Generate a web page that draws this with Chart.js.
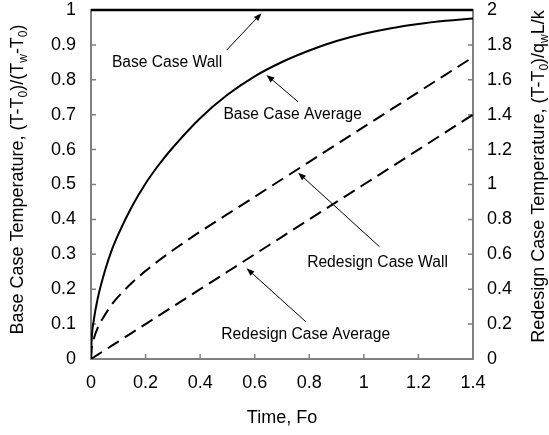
<!DOCTYPE html>
<html>
<head>
<meta charset="utf-8">
<script src="https://cdn.jsdelivr.net/npm/chart.js@4.4.1/dist/chart.umd.min.js"></script>
<style>
  html, body { margin: 0; padding: 0; background: #fff; }
  #wrap { width: 549px; height: 435px; position: relative; }
</style>
</head>
<body>
<div id="wrap"><canvas id="chart"></canvas></div>
<script>
// Fourier number samples (x axis)
const fo = [0, 0.0025, 0.01, 0.025, 0.05, 0.075, 0.1, 0.15, 0.2, 0.25, 0.3, 0.4, 0.5,
            0.6, 0.7, 0.8, 0.9, 1.0, 1.1, 1.2, 1.3, 1.4];

// left axis: base case (T-T0)/(Tw-T0)
const baseWall = [1, 1, 1, 1, 1, 1, 1, 1, 1, 1, 1, 1, 1, 1, 1, 1, 1, 1, 1, 1, 1, 1];
const baseAvg  = [0, 0.056, 0.11, 0.175, 0.25, 0.31, 0.357, 0.437, 0.503, 0.558, 0.606, 0.69, 0.757,
                  0.81, 0.851, 0.884, 0.911, 0.932, 0.948, 0.96, 0.969, 0.976];

// right axis: redesign case (T-T0)/(qw L/k)
const redesignWall = [0, 0.06, 0.115, 0.18, 0.25, 0.31, 0.357, 0.437, 0.505, 0.566, 0.623, 0.73, 0.83,
                      0.93, 1.03, 1.13, 1.23, 1.33, 1.43, 1.53, 1.63, 1.73];
const redesignAvg  = [0, 0.0025, 0.01, 0.025, 0.05, 0.075, 0.1, 0.15, 0.2, 0.25, 0.3, 0.4, 0.5,
                      0.6, 0.7, 0.8, 0.9, 1.0, 1.1, 1.2, 1.3, 1.4];

// tick labels
const xTickValues = [0, 0.2, 0.4, 0.6, 0.8, 1, 1.2, 1.4];
const leftTickValues = [0, 0.1, 0.2, 0.3, 0.4, 0.5, 0.6, 0.7, 0.8, 0.9, 1];
const rightTickValues = [0, 0.2, 0.4, 0.6, 0.8, 1, 1.2, 1.4, 1.6, 1.8, 2];

// callouts, in (Fo, left axis) units: label centre, arrow tail, arrow head
const callouts = [
  { text: 'Base Case Wall',        at: [0.279, 0.848], from: [0.497, 0.885], to: [0.625, 0.991] },
  { text: 'Base Case Average',     at: [0.739, 0.700], from: [0.759, 0.737], to: [0.643, 0.814] },
  { text: 'Redesign Case Wall',    at: [1.050, 0.275], from: [1.057, 0.322], to: [0.759, 0.534] },
  { text: 'Redesign Case Average', at: [0.787, 0.069], from: [0.787, 0.107], to: [0.570, 0.260] }
];

const FONT = 'Arial, "Liberation Sans", sans-serif';
const FRAME = '#808080';

function pts(ys) {
  return fo.map((x, i) => ({ x: x, y: ys[i] }));
}

function fmt(v) {
  return String(+Number(v).toFixed(1));
}

// text with subscripts, centred on (0,0) of the current transform
function drawRich(ctx, parts, size) {
  const subSize = Math.round(size * 0.68);
  let w = 0;
  parts.forEach(p => {
    ctx.font = (p[1] ? subSize : size) + 'px ' + FONT;
    w += ctx.measureText(p[0]).width;
  });
  let x = -w / 2;
  ctx.textAlign = 'left';
  ctx.textBaseline = 'middle';
  parts.forEach(p => {
    ctx.font = (p[1] ? subSize : size) + 'px ' + FONT;
    ctx.fillText(p[0], x, p[1] ? size * 0.3 : 0);
    x += ctx.measureText(p[0]).width;
  });
}

// keep the plot box fixed: no extra padding from edge labels
function noPad(s) {
  s.paddingTop = 0;
  s.paddingBottom = 0;
  s.paddingLeft = 0;
  s.paddingRight = 0;
}

const extras = {
  id: 'extras',
  beforeDatasetsDraw(chart) {
    const ctx = chart.ctx;
    const a = chart.chartArea;
    const sx = chart.scales.x, sy = chart.scales.y, sy2 = chart.scales.y2;
    ctx.save();
    ctx.strokeStyle = FRAME;
    ctx.lineWidth = 1.5;
    ctx.beginPath();
    xTickValues.forEach(v => {
      const px = sx.getPixelForValue(v);
      ctx.moveTo(px, a.bottom);
      ctx.lineTo(px, a.bottom - 5);
    });
    leftTickValues.forEach(v => {
      const py = sy.getPixelForValue(v);
      ctx.moveTo(a.left, py);
      ctx.lineTo(a.left + 5, py);
    });
    rightTickValues.forEach(v => {
      const py = sy2.getPixelForValue(v);
      ctx.moveTo(a.right, py);
      ctx.lineTo(a.right - 5, py);
    });
    ctx.stroke();
    ctx.restore();
  },
  afterDraw(chart) {
    const ctx = chart.ctx;
    const a = chart.chartArea;
    const sx = chart.scales.x, sy = chart.scales.y;
    ctx.save();
    ctx.fillStyle = '#000';
    ctx.strokeStyle = '#000';

    // callouts with arrows
    callouts.forEach(c => {
      ctx.font = '15.6px ' + FONT;
      ctx.textAlign = 'center';
      ctx.textBaseline = 'middle';
      ctx.fillText(c.text, sx.getPixelForValue(c.at[0]), sy.getPixelForValue(c.at[1]));
      const x1 = sx.getPixelForValue(c.from[0]), y1 = sy.getPixelForValue(c.from[1]);
      const x2 = sx.getPixelForValue(c.to[0]), y2 = sy.getPixelForValue(c.to[1]);
      const ang = Math.atan2(y2 - y1, x2 - x1);
      ctx.lineWidth = 1;
      ctx.beginPath();
      ctx.moveTo(x1, y1);
      ctx.lineTo(x2 - 5 * Math.cos(ang), y2 - 5 * Math.sin(ang));
      ctx.stroke();
      ctx.beginPath();
      ctx.moveTo(x2, y2);
      ctx.lineTo(x2 - 8 * Math.cos(ang) + 3 * Math.sin(ang), y2 - 8 * Math.sin(ang) - 3 * Math.cos(ang));
      ctx.lineTo(x2 - 8 * Math.cos(ang) - 3 * Math.sin(ang), y2 - 8 * Math.sin(ang) + 3 * Math.cos(ang));
      ctx.closePath();
      ctx.fill();
    });

    // axis titles
    ctx.save();
    ctx.translate((a.left + a.right) / 2, 418);
    drawRich(ctx, [['Time, Fo']], 18);
    ctx.restore();

    ctx.save();
    ctx.translate(18, (a.top + a.bottom) / 2 - 5);
    ctx.rotate(-Math.PI / 2);
    drawRich(ctx, [['Base Case Temperature, (T-T'], ['0', 1], [')/(T'], ['w', 1], ['-T'], ['0', 1], [')']], 18);
    ctx.restore();

    ctx.save();
    ctx.translate(539, (a.top + a.bottom) / 2 - 8);
    ctx.rotate(-Math.PI / 2);
    drawRich(ctx, [['Redesign Case Temperature, (T-T'], ['0', 1], [')/q'], ['w', 1], ['L/k']], 18);
    ctx.restore();

    ctx.restore();
  }
};

const tickFont = { family: FONT, size: 18 };

new Chart(document.getElementById('chart'), {
  type: 'line',
  data: {
    datasets: [
      { data: pts(baseWall), yAxisID: 'y', borderColor: '#000', borderWidth: 2.5, pointRadius: 0, clip: false },
      { data: pts(baseAvg), yAxisID: 'y', borderColor: '#000', borderWidth: 2, pointRadius: 0,
        cubicInterpolationMode: 'monotone' },
      { data: pts(redesignWall), yAxisID: 'y2', borderColor: '#000', borderWidth: 2, pointRadius: 0,
        borderDash: [13, 7], cubicInterpolationMode: 'monotone' },
      { data: pts(redesignAvg), yAxisID: 'y2', borderColor: '#000', borderWidth: 2, pointRadius: 0,
        borderDash: [13, 7] }
    ]
  },
  options: {
    responsive: true,
    maintainAspectRatio: false,
    animation: false,
    devicePixelRatio: 1,
    layout: { padding: { top: 10, left: 0, right: 0, bottom: 0 } },
    plugins: { legend: { display: false }, tooltip: { enabled: false } },
    scales: {
      x: {
        type: 'linear', min: 0, max: 1.4,
        afterBuildTicks: s => { s.ticks = xTickValues.map(v => ({ value: v })); },
        afterFit: s => { s.height = 76; noPad(s); },
        grid: { drawOnChartArea: false, drawTicks: false },
        border: { color: FRAME, width: 2 },
        ticks: { padding: 13, color: '#000', font: tickFont, maxRotation: 0, callback: fmt }
      },
      y: {
        position: 'left', min: 0, max: 1,
        afterBuildTicks: s => { s.ticks = leftTickValues.map(v => ({ value: v })); },
        afterFit: s => { s.width = 91; noPad(s); },
        grid: { drawOnChartArea: false, drawTicks: false },
        border: { color: FRAME, width: 2 },
        ticks: { padding: 15, color: '#000', font: tickFont, callback: fmt }
      },
      y2: {
        position: 'right', min: 0, max: 2,
        afterBuildTicks: s => { s.ticks = rightTickValues.map(v => ({ value: v })); },
        afterFit: s => { s.width = 76; noPad(s); },
        grid: { drawOnChartArea: false, drawTicks: false },
        border: { color: FRAME, width: 2 },
        ticks: { padding: 14, color: '#000', font: tickFont, callback: fmt }
      }
    }
  },
  plugins: [extras]
});
</script>
</body>
</html>
